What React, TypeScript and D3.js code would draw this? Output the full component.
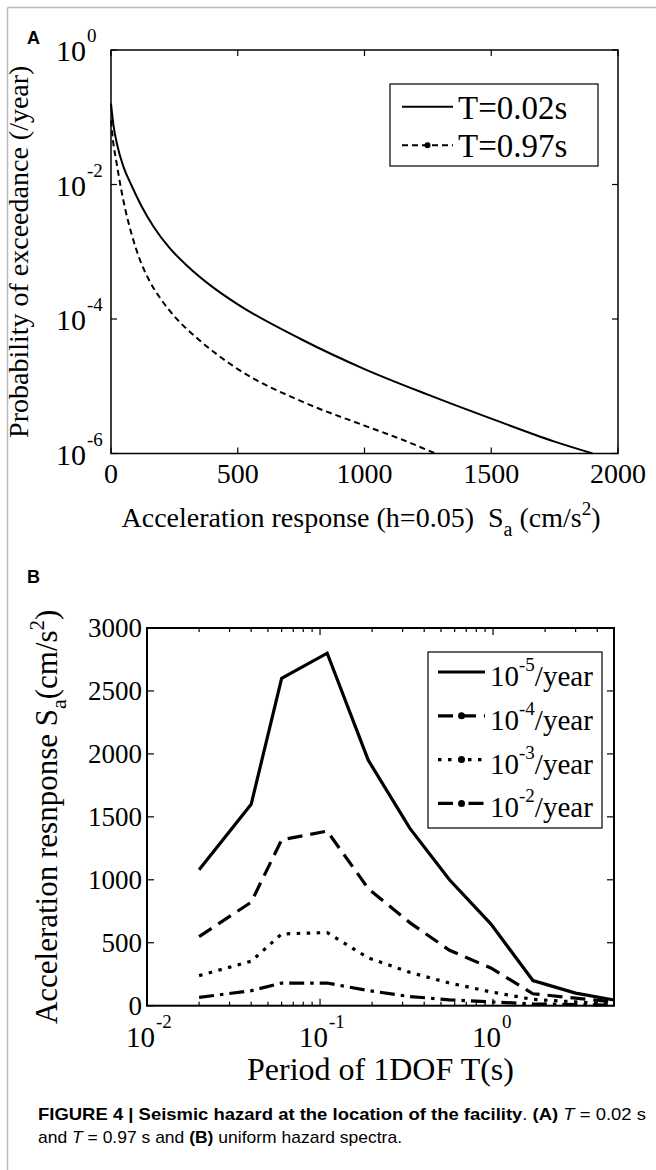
import React from "react";
import * as d3 from "d3";

// panel A: hazard curves
const saA1 = [0, 10, 25, 50, 82, 120, 170, 230, 300, 400, 500, 750, 1000, 1250, 1500, 1750, 1900];
const pA1 = [0.16, 0.075, 0.038, 0.018, 0.0095, 4.8e-3, 2.3e-3, 1.15e-3, 6.2e-4, 3.0e-4, 1.65e-4, 5e-5, 1.8e-5, 7.5e-6, 3.3e-6, 1.5e-6, 1e-6];
const saA2 = [0, 8, 22, 40, 55, 80, 114, 150, 200, 250, 350, 500, 750, 1000, 1150, 1280];
const pA2 = [0.09, 0.045, 0.021, 0.0085, 0.0045, 0.0019, 7.6e-4, 3.8e-4, 1.9e-4, 1.1e-4, 4.8e-5, 1.8e-5, 6e-6, 2.6e-6, 1.6e-6, 1e-6];
const xTicksA = [0, 500, 1000, 1500, 2000];
const yTicksA = [0, -2, -4, -6];
const legendA = ["T=0.02s", "T=0.97s"];

// panel B: uniform hazard spectra
const periods = [0.02, 0.04, 0.06, 0.11, 0.19, 0.33, 0.56, 0.97, 1.7, 3.0, 5.0];
const sa1e5 = [1080, 1600, 2600, 2800, 1950, 1410, 1000, 650, 200, 100, 45];
const sa1e4 = [549, 822, 1318, 1387, 930, 660, 440, 300, 95, 60, 30];
const sa1e3 = [239, 353, 570, 581, 380, 265, 180, 110, 50, 30, 15];
const sa1e2 = [66, 119, 180, 180, 120, 73, 47, 30, 15, 8, 5];
const levelsB = ["-5", "-4", "-3", "-2"];
const yTicksB = [0, 500, 1000, 1500, 2000, 2500, 3000];
const xTicksB = [-2, -1, 0];

const serif = "'Liberation Serif', 'Times New Roman', serif";
const sans = "'Liberation Sans', Arial, Helvetica, sans-serif";

const dashesB = [null, "15,8", "3.5,6.5", "15,6,3.5,6"];

export default function App() {
  const xA = d3.scaleLinear().domain([0, 2000]).range([111, 618]);
  const yA = d3.scaleLog().domain([1e-6, 1]).range([453.5, 50]);
  const xB = d3.scaleLog().domain([0.01, 5]).range([147, 614]);
  const yB = d3.scaleLinear().domain([0, 3000]).range([1005.7, 628]);

  const lineA = d3.line<[number, number]>().x(d => xA(d[0])).y(d => yA(d[1])).curve(d3.curveMonotoneX);
  const lineB = d3.line<[number, number]>().x(d => xB(d[0])).y(d => yB(d[1]));

  const seriesB = [sa1e5, sa1e4, sa1e3, sa1e2];
  const minorB: number[] = [];
  [0.01, 0.1, 1].forEach(d => { for (let k = 2; k <= 9; k++) if (d * k <= 5) minorB.push(d * k); });

  const [a0, a1] = xA.range();
  const [ab, at] = yA.range();
  const [b0, b1] = xB.range();
  const [bb, bt] = yB.range();

  return (
    <svg width={656} height={1170} style={{ position: "absolute", left: 0, top: 0, background: "#fff" }}>
      <line x1={7.5} y1={7.5} x2={656} y2={7.5} stroke="#bbb" strokeWidth={1.5} />
      <line x1={7.5} y1={7.5} x2={7.5} y2={1170} stroke="#bbb" strokeWidth={1.5} />

      {/* ---------- panel A ---------- */}
      <text x={27} y={44} fontFamily={sans} fontWeight="bold" fontSize={18}>A</text>
      {xTicksA.map(t => (
        <g key={"xa" + t}>
          <line x1={xA(t)} x2={xA(t)} y1={ab} y2={ab - 6} stroke="#000" strokeWidth={1.2} />
          <line x1={xA(t)} x2={xA(t)} y1={at} y2={at + 6} stroke="#000" strokeWidth={1.2} />
          <text x={xA(t)} y={ab + 29} textAnchor="middle" fontFamily={serif} fontSize={28}>{t}</text>
        </g>
      ))}
      {yTicksA.map(e => (
        <g key={"ya" + e}>
          <line x1={a0} x2={a0 + 6} y1={yA(10 ** e)} y2={yA(10 ** e)} stroke="#000" strokeWidth={1.2} />
          <line x1={a1} x2={a1 - 6} y1={yA(10 ** e)} y2={yA(10 ** e)} stroke="#000" strokeWidth={1.2} />
          <text x={86} y={yA(10 ** e) + 11} textAnchor="end" fontFamily={serif} fontSize={30}>10</text>
          <text x={87} y={yA(10 ** e) - 8} fontFamily={serif} fontSize={19}>{e}</text>
        </g>
      ))}
      <path d={lineA(saA1.map((s, i) => [s, pA1[i]]))!} fill="none" stroke="#000" strokeWidth={2} />
      <path d={lineA(saA2.map((s, i) => [s, pA2[i]]))!} fill="none" stroke="#000" strokeWidth={2} strokeDasharray="6,4" />
      <rect x={a0} y={at} width={a1 - a0} height={ab - at} fill="none" stroke="#000" strokeWidth={1.5} />

      <rect x={390} y={84} width={208} height={82} fill="#fff" stroke="#000" strokeWidth={1.2} />
      {legendA.map((lb, i) => {
        const cy = 106.7 + i * 38.5;
        return (
          <g key={"la" + i}>
            <line x1={402} x2={453} y1={cy} y2={cy} stroke="#000" strokeWidth={2} strokeDasharray={i ? "6,4" : undefined} />
            {i > 0 && <circle cx={427.5} cy={cy} r={3} fill="#000" />}
            <text x={458} y={cy + 12} fontFamily={serif} fontSize={33}>{lb}</text>
          </g>
        );
      })}

      <text x={361} y={527} textAnchor="middle" fontFamily={serif} fontSize={28} style={{ whiteSpace: "pre" }}>
        Acceleration response (h=0.05)  S<tspan dy={9} fontSize={20}>a</tspan>
        <tspan dy={-9}> (cm/s</tspan><tspan dy={-12} fontSize={19}>2</tspan><tspan dy={12}>)</tspan>
      </text>
      <text transform={`translate(28,${(at + ab) / 2}) rotate(-90)`} textAnchor="middle" fontFamily={serif} fontSize={28}>
        Probability of exceedance (/year)
      </text>

      {/* ---------- panel B ---------- */}
      <text x={27} y={583} fontFamily={sans} fontWeight="bold" fontSize={18}>B</text>
      {minorB.map(t => (
        <g key={"mb" + t}>
          <line x1={xB(t)} x2={xB(t)} y1={bb} y2={bb - 4} stroke="#000" strokeWidth={1.2} />
          <line x1={xB(t)} x2={xB(t)} y1={bt} y2={bt + 4} stroke="#000" strokeWidth={1.2} />
        </g>
      ))}
      {xTicksB.map(e => (
        <g key={"xb" + e}>
          <line x1={xB(10 ** e)} x2={xB(10 ** e)} y1={bb} y2={bb - 7} stroke="#000" strokeWidth={1.2} />
          <line x1={xB(10 ** e)} x2={xB(10 ** e)} y1={bt} y2={bt + 7} stroke="#000" strokeWidth={1.2} />
          <text x={xB(10 ** e) + 8} y={bb + 41} textAnchor="end" fontFamily={serif} fontSize={29}>10</text>
          <text x={xB(10 ** e) + 9} y={bb + 22} fontFamily={serif} fontSize={19}>{e}</text>
        </g>
      ))}
      {yTicksB.map(t => (
        <g key={"yb" + t}>
          <line x1={b0} x2={b0 + 7} y1={yB(t)} y2={yB(t)} stroke="#000" strokeWidth={1.2} />
          <line x1={b1} x2={b1 - 7} y1={yB(t)} y2={yB(t)} stroke="#000" strokeWidth={1.2} />
          <text x={142} y={yB(t) + 9} textAnchor="end" fontFamily={serif} fontSize={27}>{t}</text>
        </g>
      ))}
      {seriesB.map((s, i) => (
        <path key={"sb" + i} d={lineB(periods.map((p, j) => [p, s[j]]))!} fill="none" stroke="#000"
          strokeWidth={3.2} strokeDasharray={dashesB[i] || undefined} />
      ))}
      <rect x={b0} y={bt} width={b1 - b0} height={bb - bt} fill="none" stroke="#000" strokeWidth={2} />

      <rect x={428} y={652} width={174} height={176} fill="#fff" stroke="#000" strokeWidth={1.2} />
      {levelsB.map((lv, i) => {
        const cy = 672 + i * 43.8;
        return (
          <g key={"lg" + i}>
            <line x1={438} x2={485} y1={cy} y2={cy} stroke="#000" strokeWidth={3.2} strokeDasharray={dashesB[i] || undefined} />
            {i > 0 && <circle cx={461.5} cy={cy} r={3.5} fill="#000" />}
            <text x={490} y={cy + 14} fontFamily={serif} fontSize={29}>
              10<tspan dy={-15} fontSize={19}>{lv}</tspan><tspan dy={15}>/year</tspan>
            </text>
          </g>
        );
      })}

      <text x={(b0 + b1) / 2} y={1080} textAnchor="middle" fontFamily={serif} fontSize={32}>Period of 1DOF T(s)</text>
      <text transform={`translate(57,${(bt + bb) / 2}) rotate(-90)`} textAnchor="middle" fontFamily={serif} fontSize={31}>
        Acceleration resnponse S<tspan dy={9} fontSize={22}>a</tspan><tspan dy={-9}>(cm/s</tspan>
        <tspan dy={-13} fontSize={21}>2</tspan><tspan dy={13}>)</tspan>
      </text>

      {/* ---------- caption ---------- */}
      <text x={38} y={1120} fontFamily={sans} fontSize={17} textLength={608} lengthAdjust="spacingAndGlyphs">
        <tspan fontWeight="bold">FIGURE 4 | Seismic hazard at the location of the facility</tspan>. <tspan fontWeight="bold">(A)</tspan>{" "}
        <tspan fontStyle="italic">T</tspan> = 0.02 s
      </text>
      <text x={38} y={1143} fontFamily={sans} fontSize={17} textLength={364} lengthAdjust="spacingAndGlyphs">
        and <tspan fontStyle="italic">T</tspan> = 0.97 s and <tspan fontWeight="bold">(B)</tspan> uniform hazard spectra.
      </text>
    </svg>
  );
}
